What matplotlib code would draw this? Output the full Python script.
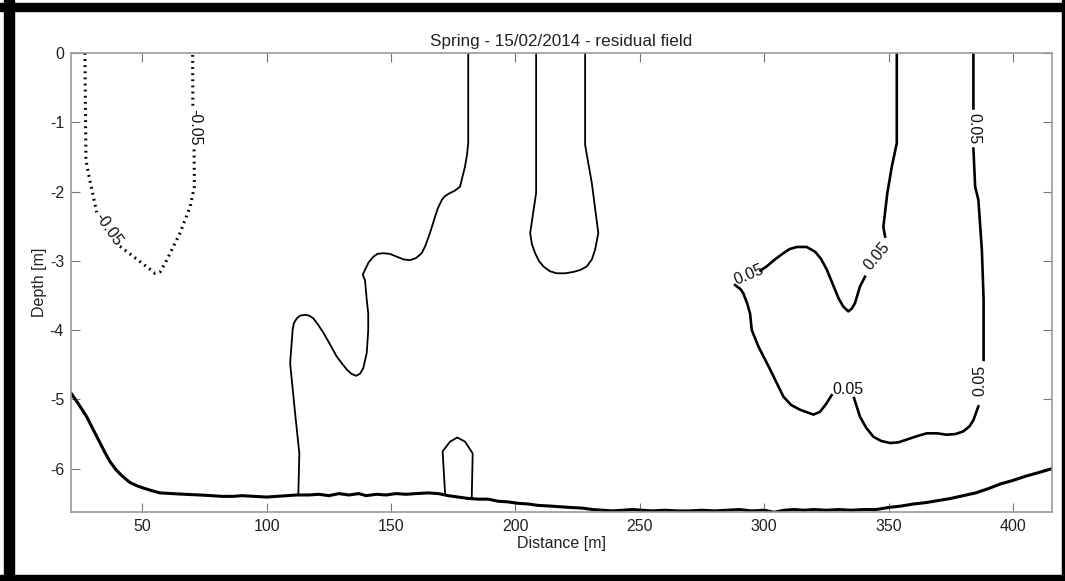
import numpy as np
import matplotlib
matplotlib.use("Agg")
import matplotlib.pyplot as plt
from matplotlib.patches import Rectangle

plt.rcParams['font.family'] = ['Liberation Sans', 'DejaVu Sans']
plt.rcParams['axes.unicode_minus'] = False

# linha de fundo (batimetria)
bath_x = [21.3, 24, 27.6, 30, 33, 35, 37, 39.5, 42, 45, 48, 50.4, 54, 57.1, 62, 67, 73, 78, 82,
          86.6, 90, 95, 100, 104, 108, 112, 117, 121, 125, 129, 133, 137, 140, 144, 148, 152,
          156, 160, 165, 169, 173, 177, 181, 185, 189, 193, 197, 201, 205, 209, 214, 218, 222,
          227, 231, 235, 239, 243, 247, 251, 255, 260, 265, 270, 275, 280, 285, 290, 295, 300,
          304, 308, 312, 316, 320, 325, 330, 335, 340, 345, 350, 355, 360, 365, 370, 375, 380,
          385, 390, 395, 400, 405, 410, 415.7]
bath_y = [-4.91, -5.05, -5.25, -5.42, -5.63, -5.77, -5.90, -6.02, -6.11, -6.20, -6.25, -6.28,
          -6.32, -6.35, -6.36, -6.37, -6.38, -6.39, -6.40, -6.40, -6.39, -6.40, -6.41, -6.40,
          -6.39, -6.38, -6.38, -6.37, -6.39, -6.36, -6.38, -6.36, -6.39, -6.37, -6.38, -6.36,
          -6.37, -6.36, -6.35, -6.36, -6.39, -6.41, -6.43, -6.44, -6.44, -6.47, -6.48, -6.50,
          -6.51, -6.53, -6.54, -6.55, -6.56, -6.57, -6.59, -6.60, -6.61, -6.60, -6.59, -6.60,
          -6.61, -6.60, -6.61, -6.61, -6.60, -6.61, -6.60, -6.59, -6.61, -6.60, -6.63, -6.60,
          -6.59, -6.60, -6.59, -6.60, -6.59, -6.60, -6.59, -6.59, -6.56, -6.54, -6.51, -6.49,
          -6.46, -6.43, -6.39, -6.35, -6.29, -6.22, -6.17, -6.11, -6.06, -6.00]

# isolinhas finas (centro)
a_x = [181.0, 181.0, 180.5, 179.7, 177.7, 175.5, 173.7, 171.5, 170.4, 168.8, 167.7, 165.6,
       163.8, 162.3, 160.0, 157.6, 155.0, 152.3, 149.5, 146.9, 144.5, 142.9, 141.0, 139.5,
       138.6, 139.5, 140.2, 140.8, 140.8, 140.2, 138.8, 137.5, 135.9, 134.0, 132.2, 130.2,
       128.1, 125.5, 122.8, 120.6, 118.7, 117.0, 115.4, 113.5, 112.1, 110.9, 110.4, 109.4,
       111.4, 113.1, 112.7]
a_y = [0, -1.30, -1.47, -1.64, -1.93, -1.99, -2.02, -2.07, -2.12, -2.24, -2.36, -2.60,
       -2.78, -2.89, -2.96, -2.99, -2.98, -2.94, -2.90, -2.89, -2.90, -2.94, -3.02, -3.13,
       -3.20, -3.28, -3.56, -3.76, -4.00, -4.33, -4.55, -4.63, -4.66, -4.63, -4.57, -4.48,
       -4.38, -4.21, -4.04, -3.92, -3.83, -3.79, -3.78, -3.79, -3.83, -3.90, -4.00, -4.48,
       -5.20, -5.78, -6.36]

b_x = [208.3, 208.3, 205.9, 206.6, 207.9, 209.4, 211.2, 213.8, 216.6, 220.0, 223.3, 226.2,
       228.7, 230.7, 232.0, 233.3, 230.7, 228.0, 228.0]
b_y = [0, -2.02, -2.60, -2.76, -2.89, -3.00, -3.08, -3.15, -3.18, -3.18, -3.16, -3.13,
       -3.08, -2.98, -2.84, -2.60, -1.88, -1.33, 0]

c_x = [171.7, 170.7, 173.7, 176.6, 179.7, 182.8, 182.4]
c_y = [-6.36, -5.75, -5.61, -5.55, -5.61, -5.78, -6.43]

# isolinha -0.05 (pontilhada)
neg_x = [26.9, 27.3, 28.3, 30.0, 31.6, np.nan, 41.0, 49.0, 53.0, 55.0, 57.1, 59.8, 65.1,
         69.2, 70.9, 70.8, 70.8, np.nan, 70.3, 70.2]
neg_y = [0, -1.54, -1.74, -2.02, -2.30, np.nan, -2.79, -3.01, -3.12, -3.18, -3.16, -2.99,
         -2.60, -2.22, -1.93, -1.45, -1.38, np.nan, -0.76, 0]

# isolinha 0.05 (direita)
pos_x = [353.3, 353.3, 351.3, 349.5, 347.9, 348.6, np.nan, 340.5, 338.5, 336.5, 335.2, 333.8,
         331.8, 330.0, 328.5, 325.2, 322.8, 320.5, 317.1, 313.1, 310.2, 307.7, 304.3, 301.0,
         298.5, np.nan, 288.3, 290.5, 291.6, 293.2, 294.3, 295.0, 297.7, 302.4, 307.7, 310.8,
         314.4, 319.8, 322.4, 324.8, 327.1, np.nan, 336.1, 338.5, 341.0, 343.9, 347.0, 350.6,
         354.0, 357.3, 361.5, 365.4, 369.5, 373.4, 377.0, 380.1, 382.5, 384.1, 386.1, np.nan,
         388.2, 388.2, 387.5, 386.1, 384.8, 384.1, np.nan, 384.1, 384.1]
pos_y = [0, -1.30, -1.64, -2.02, -2.51, -2.65, np.nan, -3.23, -3.37, -3.61, -3.69, -3.73,
         -3.66, -3.55, -3.42, -3.13, -2.97, -2.87, -2.80, -2.80, -2.83, -2.89, -2.98, -3.08,
         -3.14, np.nan, -3.35, -3.41, -3.47, -3.62, -3.76, -4.00, -4.24, -4.57, -4.96, -5.08,
         -5.15, -5.22, -5.18, -5.07, -4.94, np.nan, -4.98, -5.25, -5.41, -5.54, -5.60, -5.63,
         -5.62, -5.58, -5.53, -5.49, -5.49, -5.51, -5.50, -5.46, -5.39, -5.30, -5.10, np.nan,
         -4.43, -3.56, -2.84, -2.12, -1.93, -1.38, np.nan, -0.80, 0]

# rótulos das isolinhas: (texto, x, y, rotação)
rot_labels = [("-0.05", 36.3, -2.55, -55), ("-0.05", 71.1, -1.07, -90),
              ("0.05", 345.3, -2.93, 50), ("0.05", 294.0, -3.20, 23),
              ("0.05", 333.8, -4.86, 0), ("0.05", 386.8, -4.72, 90),
              ("0.05", 384.1, -1.09, -90)]

xticks = [50, 100, 150, 200, 250, 300, 350, 400]
yticks = [0, -1, -2, -3, -4, -5, -6]

fig = plt.figure(figsize=(10.65, 5.81), dpi=100)
ax = fig.add_axes([71/1065, 1 - 512.3/581, (1052 - 71)/1065, (512.3 - 53)/581])

ax.plot(bath_x, bath_y, color='black', lw=2.2)
for xs, ys in [(a_x, a_y), (b_x, b_y), (c_x, c_y)]:
    ax.plot(xs, ys, color='black', lw=1.3)
ax.plot(neg_x, neg_y, color='black', lw=2.2, linestyle=(0, (0.6, 1.4)))
ax.plot(pos_x, pos_y, color='black', lw=1.9)

for txt, x, y, r in rot_labels:
    ax.text(x, y, txt, rotation=r, ha='center', va='center', fontsize=11.5,
            color='#111111', rotation_mode='anchor')

ax.set_xlim(21.3, 415.7)
ax.set_ylim(-6.63, 0)
ax.set_xticks(xticks)
ax.set_yticks(yticks)
ax.tick_params(direction='in', length=6.5, width=0.8, color='#777777', labelsize=11.5,
               labelcolor='#222222', top=True, right=True, pad=5)
for s in ax.spines.values():
    s.set_color('#999999')
    s.set_linewidth(1.2)

ax.set_title('Spring - 15/02/2014 - residual field', fontsize=12.3, color='#222222', pad=5)
ax.set_xlabel('Distance [m]', fontsize=11.5, color='#222222', labelpad=1)
ax.set_ylabel('Depth [m]', fontsize=11.5, color='#222222', labelpad=2)

# moldura preta em volta da figura
W, H = 1065, 581
for (x0, y0, w, h) in [(4, 0, 9.5, 581), (0, 3, 1065, 8), (0, 575, 1065, 6), (1062, 0, 3, 581)]:
    fig.patches.append(Rectangle((x0 / W, 1 - (y0 + h) / H), w / W, h / H,
                                 transform=fig.transFigure, color='black', zorder=10))

fig.savefig('out.png', dpi=100)
